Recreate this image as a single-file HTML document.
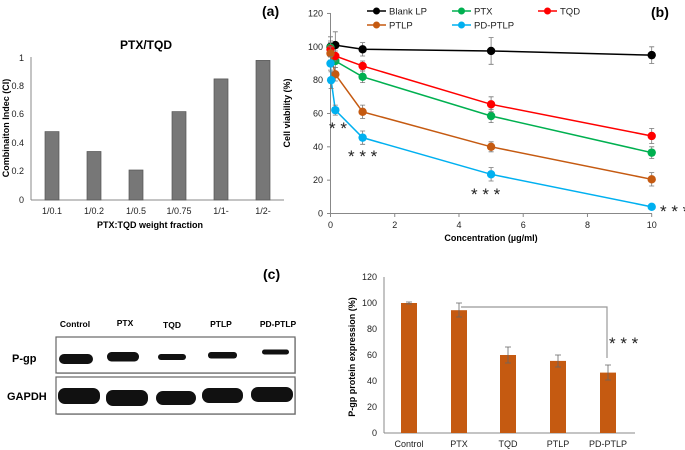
<!DOCTYPE html>
<html><head><meta charset="utf-8"><style>
html,body{margin:0;padding:0;background:#fff;}
svg{display:block;font-family:"Liberation Sans",Arial,sans-serif;}
</style></head><body>
<svg id="s" width="685" height="450" viewBox="0 0 685 450" xmlns="http://www.w3.org/2000/svg">
<!-- Panel a -->
<text x="262" y="16" font-size="14" font-weight="bold">(a)</text>
<text x="146" y="49" font-size="12" font-weight="bold" text-anchor="middle">PTX/TQD</text>
<g font-size="9" fill="#222" text-anchor="end">
<text x="24" y="61">1</text><text x="24" y="89">0.8</text><text x="24" y="117">0.6</text>
<text x="24" y="146">0.4</text><text x="24" y="174">0.2</text><text x="24" y="203">0</text>
</g>
<line x1="31" y1="57" x2="31" y2="200" stroke="#888"/>
<line x1="31" y1="200" x2="284" y2="200" stroke="#888"/>
<g fill="#777" stroke="#555" stroke-width="0.7">
<rect x="45" y="131.6" width="14" height="68.4"/>
<rect x="87" y="151.5" width="14" height="48.5"/>
<rect x="129" y="170" width="14" height="30"/>
<rect x="172" y="111.6" width="14" height="88.4"/>
<rect x="214" y="78.9" width="14" height="121.1"/>
<rect x="256" y="60.4" width="14" height="139.6"/>
</g>
<g font-size="9" fill="#222" text-anchor="middle">
<text x="52" y="214">1/0.1</text><text x="94" y="214">1/0.2</text><text x="136" y="214">1/0.5</text>
<text x="179" y="214">1/0.75</text><text x="221" y="214">1/1-</text><text x="263" y="214">1/2-</text>
</g>
<text x="150" y="228" font-size="9" font-weight="bold" text-anchor="middle">PTX:TQD weight fraction</text>
<text transform="translate(9,128) rotate(-90)" font-size="9" font-weight="bold" text-anchor="middle">Combinaiton Indec (CI)</text>

<!-- Panel b -->
<text x="651" y="17" font-size="14" font-weight="bold">(b)</text>
<g id="b"></g>
<text x="491" y="241" font-size="9" font-weight="bold" text-anchor="middle">Concentration (µg/ml)</text>
<text transform="translate(290,113) rotate(-90)" font-size="9" font-weight="bold" text-anchor="middle">Cell viability (%)</text>
<g font-size="17" fill="#222">
<text x="329" y="134">* *</text>
<text x="348" y="162">* * *</text>
<text x="471" y="200">* * *</text>
<text x="660" y="217">* * *</text>
</g>

<!-- Panel c -->
<text x="263" y="279" font-size="14" font-weight="bold">(c)</text>
<g font-size="8.5" font-weight="bold" text-anchor="middle">
<text x="75" y="327">Control</text><text x="125" y="326">PTX</text><text x="172" y="328">TQD</text>
<text x="221" y="327">PTLP</text><text x="278" y="327">PD-PTLP</text>
</g>
<text x="12" y="362" font-size="11" font-weight="bold">P-gp</text>
<text x="7" y="400" font-size="11" font-weight="bold">GAPDH</text>
<rect x="57" y="338" width="239" height="36" fill="#ccc"/>
<rect x="57" y="378" width="239" height="37" fill="#ccc"/>
<rect x="56" y="337" width="239" height="36" fill="#fff" stroke="#666" stroke-width="1.2"/>
<rect x="56" y="377" width="239" height="37" fill="#fff" stroke="#666" stroke-width="1.2"/>
<g fill="#111">
<rect x="59" y="354" width="34" height="10" rx="5"/>
<rect x="107" y="352" width="32" height="9.5" rx="4.5"/>
<rect x="158" y="354" width="28" height="6" rx="3"/>
<rect x="208" y="352" width="29" height="6.5" rx="3"/>
<rect x="262" y="349.5" width="27" height="5" rx="2.5"/>
<rect x="58" y="388" width="42" height="16" rx="7"/>
<rect x="106" y="390" width="42" height="16" rx="7"/>
<rect x="156" y="391" width="40" height="14" rx="7"/>
<rect x="202" y="388" width="41" height="15" rx="7"/>
<rect x="251" y="387" width="42" height="15" rx="7"/>
</g>

<!-- Panel d -->
<g font-size="9" fill="#222" text-anchor="end">
<text x="377" y="280">120</text><text x="377" y="306">100</text><text x="377" y="332">80</text>
<text x="377" y="358">60</text><text x="377" y="384">40</text><text x="377" y="410">20</text><text x="377" y="436">0</text>
</g>
<line x1="384" y1="277" x2="384" y2="433" stroke="#888"/>
<line x1="384" y1="433" x2="635" y2="433" stroke="#888"/>
<g fill="#C55A11">
<rect x="401" y="303" width="16" height="130"/>
<rect x="451" y="310.2" width="16" height="122.8"/>
<rect x="500" y="355" width="16" height="78"/>
<rect x="550" y="360.9" width="16" height="72.1"/>
<rect x="600" y="372.6" width="16" height="60.4"/>
</g>
<g stroke="#666" stroke-width="0.8" fill="none">
<path d="M409 302v2M406 302h6M406 304h6"/>
<path d="M459 303v14M456 303h6M456 317h6"/>
<path d="M508 347v16M505 347h6M505 363h6"/>
<path d="M558 355v12M555 355h6M555 367h6"/>
<path d="M608 365v15M605 365h6M605 380h6"/>
<path d="M461 307H607V358" stroke="#999" stroke-width="1.2"/>
</g>
<text x="609" y="349" font-size="17" fill="#222">* * *</text>
<g font-size="9" fill="#222" text-anchor="middle">
<text x="409" y="447">Control</text><text x="459" y="447">PTX</text><text x="508" y="447">TQD</text>
<text x="558" y="447">PTLP</text><text x="608" y="447">PD-PTLP</text>
</g>
<text transform="translate(355,357) rotate(-90)" font-size="9" font-weight="bold" text-anchor="middle">P-gp protein expression (%)</text>
</svg>
<script>
(function(){
var g=document.getElementById('b'),h='';
function X(v){return 330.5+v*32.12;}function Y(v){return 213.5-v*1.667;}
h+='<line x1="330.5" y1="13" x2="330.5" y2="213.5" stroke="#888"/><line x1="330.5" y1="213.5" x2="652" y2="213.5" stroke="#888"/>';
for(var i=0;i<=6;i++){var y=Y(i*20);h+='<line x1="327" y1="'+y+'" x2="330.5" y2="'+y+'" stroke="#888"/><text x="323" y="'+(y+3)+'" font-size="9" fill="#222" text-anchor="end">'+(i*20)+'</text>';}
for(var i=0;i<=5;i++){var x=X(i*2);h+='<line x1="'+x+'" y1="213.5" x2="'+x+'" y2="217" stroke="#888"/><text x="'+x+'" y="228" font-size="9" fill="#222" text-anchor="middle">'+(i*2)+'</text>';}
var S=[
['#000',[[0,100,6],[0.15,101,8],[1,98.5,4],[5,97.5,8],[10,95,5]]],
['#00B050',[[0,99.5,4],[0.15,91.5,4],[1,82,3.5],[5,58.5,4],[10,36.5,3.5]]],
['#FF0000',[[0,98.5,4],[0.15,94.5,3],[1,88.5,3],[5,65.5,4.5],[10,46.5,4.5]]],
['#C55A11',[[0,96,4],[0.15,83.5,4],[1,61,4],[5,40,3],[10,20.5,4]]],
['#00B0F0',[[0,90,4],[0.02,80,5],[0.15,62,3],[1,45.5,4],[5,23.5,4],[10,4,1]]]];
S.forEach(function(s){var p=s[1].map(function(d){return X(d[0])+','+Y(d[1]);}).join(' ');
h+='<polyline points="'+p+'" fill="none" stroke="'+s[0]+'" stroke-width="1.5"/>';
s[1].forEach(function(d){var x=X(d[0]),a=Y(d[1]+d[2]),b=Y(d[1]-d[2]);
h+='<path d="M'+x+' '+a+'V'+b+'M'+(x-2.5)+' '+a+'h5M'+(x-2.5)+' '+b+'h5" stroke="#777" stroke-width="0.8"/>';
h+='<circle cx="'+x+'" cy="'+Y(d[1])+'" r="4.2" fill="'+s[0]+'"/>';});});
var L=[['#000','Blank LP',367,11],['#00B050','PTX',452,11],['#FF0000','TQD',538,11],['#C55A11','PTLP',367,25],['#00B0F0','PD-PTLP',452,25]];
L.forEach(function(l){h+='<line x1="'+l[2]+'" y1="'+l[3]+'" x2="'+(l[2]+19)+'" y2="'+l[3]+'" stroke="'+l[0]+'" stroke-width="1.5"/><circle cx="'+(l[2]+9.5)+'" cy="'+l[3]+'" r="3.5" fill="'+l[0]+'"/><text x="'+(l[2]+22)+'" y="'+(l[3]+3.5)+'" font-size="9.5" fill="#222">'+l[1]+'</text>';});
g.innerHTML=h;})();
</script>
</body></html>
